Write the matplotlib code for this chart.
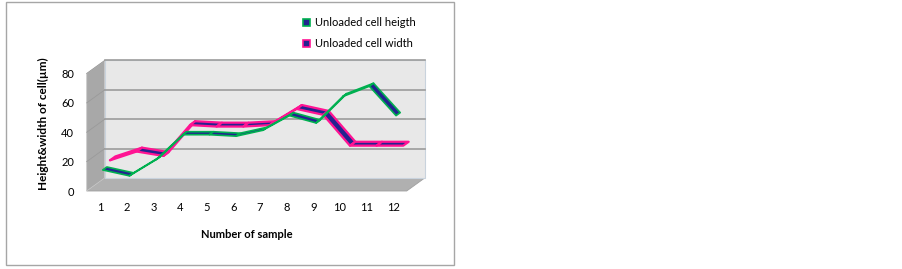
import numpy as np
import matplotlib
matplotlib.use("Agg")
import matplotlib.pyplot as plt
from matplotlib.patches import Polygon, Rectangle

plt.rcParams['font.family'] = ['Lato', 'DejaVu Sans']

# data
samples = [1, 2, 3, 4, 5, 6, 7, 8, 9, 10, 11, 12]
cell_height = [13, 9, 20, 37, 37, 36, 40, 50, 45, 63, 70, 50]
cell_width = [16, 22, 19, 40, 39, 39, 40, 51, 47, 26, 26, 26]
y_ticks = [0, 20, 40, 60, 80]
series_names = ["Unloaded cell heigth", "Unloaded cell width"]

W, H = 902, 269
fig = plt.figure(figsize=(W / 100, H / 100), dpi=100)
fig.patch.set_facecolor('white')

# front plane of the fake 3d box
ax = fig.add_axes([86.7 / W, 1 - 191 / H, 320 / W, 117.5 / H])
ax.set_xlim(0.5, 12.5)
ax.set_ylim(0, 80)
for s in ax.spines.values():
    s.set_visible(False)
ax.patch.set_visible(False)

DX, DY = 18, 13  # depth offset of the back wall in pixels


def shifted(x, y, d):
    # move data points back into the box by fraction d of the depth
    pts = ax.transData.transform(np.column_stack([x, y]))
    pts = pts + np.array([DX * d, DY * d])
    return ax.transData.inverted().transform(pts)


def face(pts, **kw):
    ax.add_patch(Polygon(pts, closed=True, clip_on=False, **kw))


x0, x1 = 0.5, 12.5
# floor
face(np.vstack([shifted([x0, x1], [0, 0], 0), shifted([x1, x0], [0, 0], 1)]),
     facecolor='#b0b0b0', edgecolor='#a0a0a0', lw=0.6, zorder=1)
# left wall
face(np.vstack([shifted([x0, x0], [0, 80], 0), shifted([x0, x0], [80, 0], 1)]),
     facecolor='#a8a8a8', edgecolor='#c8c8c8', lw=0.6, zorder=1)
# back wall
face(shifted([x0, x1, x1, x0], [0, 0, 80, 80], 1),
     facecolor='#e8e8e8', edgecolor='#c9d3dd', lw=0.8, zorder=1)

# gridlines on back wall and left wall
for v in y_ticks[1:]:
    g = shifted([x0, x1], [v, v], 1)
    ax.plot(g[:, 0], g[:, 1], color='#9c9c9c', lw=1.2, zorder=2, clip_on=False)
    s = np.vstack([shifted([x0], [v], 0), shifted([x0], [v], 1)])
    ax.plot(s[:, 0], s[:, 1], color='#9a9a9a', lw=0.6, zorder=2, clip_on=False)


def ribbon(xs, ys, d0, d1, edge, elw, z):
    xs = np.asarray(xs, float)
    ys = np.asarray(ys, float)
    for i in range(len(xs) - 1):
        seg_x = xs[i:i + 2]
        seg_y = ys[i:i + 2]
        pts = np.vstack([shifted(seg_x, seg_y, d0), shifted(seg_x[::-1], seg_y[::-1], d1)])
        face(pts, facecolor='#23238f', edgecolor=edge, lw=elw, joinstyle='round', zorder=z)


# width series sits behind the height series
ribbon(samples, cell_width, 0.55, 0.85, '#ff1493', 1.6, 3)
ribbon(samples, cell_height, 0.15, 0.38, '#00b050', 1.2, 4)

# ticks
ax.set_xticks(samples)
ax.set_xticklabels([str(s) for s in samples])
ax.set_yticks(y_ticks)
ax.set_yticklabels([str(v) for v in y_ticks])
ax.tick_params(axis='x', length=0, pad=8, labelsize=8, labelcolor='black')
ax.tick_params(axis='y', length=0, pad=9, labelsize=8, labelcolor='black')

# axis titles
fig.text(247 / W, 1 - 235 / H, "Number of sample", ha='center', va='center',
         fontsize=8, fontweight='bold')
fig.text(43 / W, 1 - 124 / H, "Height&width of cell(\u00b5m)", ha='center', va='center',
         rotation=90, fontsize=8.5, fontweight='bold')

# legend
leg_y = [22.7, 43.3]
leg_edges = ['#00b050', '#ff1493']
for name, yy, ec in zip(series_names, leg_y, leg_edges):
    fig.patches.append(Rectangle(((306.7 - 3.5) / W, 1 - (yy + 3.5) / H), 7 / W, 7 / H,
                                 transform=fig.transFigure, facecolor='#23238f',
                                 edgecolor=ec, lw=1.2))
    fig.text(315 / W, 1 - yy / H, name, ha='left', va='center', fontsize=8)

# chart border
fig.patches.append(Rectangle((6 / W, 1 - 265 / H), 448 / W, 263 / H,
                             transform=fig.transFigure, fill=False,
                             edgecolor='#a6a6a6', lw=1))

fig.savefig('out.png', dpi=100)
